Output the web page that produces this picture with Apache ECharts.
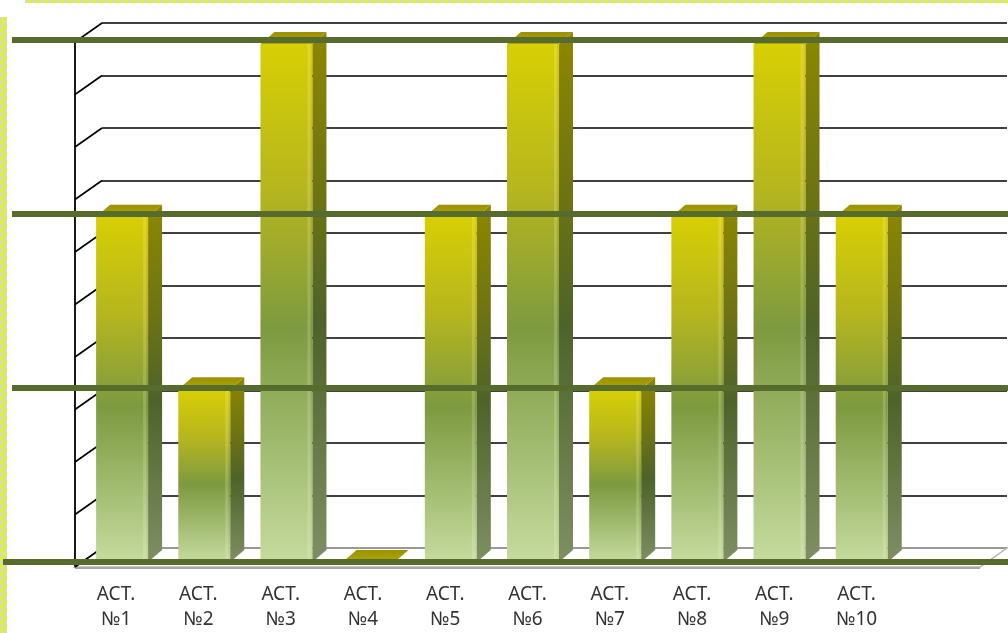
<!DOCTYPE html>
<html>
<head>
<meta charset="utf-8">
<script src="https://cdn.jsdelivr.net/npm/echarts@6/dist/echarts.min.js"></script>
<style>
  html, body { margin: 0; padding: 0; background: #ffffff; }
  #chart { width: 1008px; height: 633px; }
</style>
</head>
<body>
<div id="chart"></div>
<script>
// Category labels (the last slot is an empty placeholder at the end of the floor)
const categories = ['АСТ.\n№1', 'АСТ.\n№2', 'АСТ.\n№3', 'АСТ.\n№4', 'АСТ.\n№5',
                    'АСТ.\n№6', 'АСТ.\n№7', 'АСТ.\n№8', 'АСТ.\n№9', 'АСТ.\n№10', ''];
// Bar values per category
const barValues = [2, 1, 3, 0, 2, 3, 1, 2, 3, 2];
// Thin wall gridline levels and the bold guide levels
const gridLevels = [0, 0.3, 0.6, 0.9, 1.2, 1.5, 1.8, 2.1, 2.4, 2.7, 3];
const majorLevels = [0, 1, 2, 3];
const AXIS_MAX = 3;
const AXIS_STEP = 0.3;

// Depth offsets for the pseudo-3D look
const WALL_DX = 27, WALL_DY = 19;
const BAR_W = 52, BAR_DX = 14, BAR_DY = 12;
const GUIDE_COLOR = '#566b2c';

const chart = echarts.init(document.getElementById('chart'), null, { renderer: 'canvas' });

// Small hatched tile used by the decorative border strips
function hatchTile() {
  const c = document.createElement('canvas');
  c.width = 8; c.height = 8;
  const g = c.getContext('2d');
  g.fillStyle = '#cfe4a2';
  g.fillRect(0, 0, 8, 8);
  g.strokeStyle = '#e9f01c';
  g.lineWidth = 2;
  g.beginPath();
  g.moveTo(0, 8); g.lineTo(8, 0);
  g.moveTo(-4, 4); g.lineTo(4, -4);
  g.moveTo(4, 12); g.lineTo(12, 4);
  g.stroke();
  return c;
}
const hatch = { image: hatchTile(), repeat: 'repeat' };

const frontGrad = () => new echarts.graphic.LinearGradient(0, 0, 0, 1, [
  { offset: 0, color: '#d7cf04' },
  { offset: 0.28, color: '#b6b61e' },
  { offset: 0.55, color: '#7d9a40' },
  { offset: 0.8, color: '#a4be74' },
  { offset: 1, color: '#c6db9f' }
]);
const sideGrad = () => new echarts.graphic.LinearGradient(0, 0, 0, 1, [
  { offset: 0, color: '#8d8700' },
  { offset: 0.3, color: '#6e7413' },
  { offset: 0.55, color: '#4d6329' },
  { offset: 1, color: '#7f8f63' }
]);

// 3D-looking bar: front face, side face and top face
function renderBar(params, api) {
  const i = api.value(0);
  const v = api.value(1);
  const top = api.coord([i, v]);
  const base = api.coord([i, 0]);
  const x0 = top[0] - BAR_W / 2;
  const x1 = x0 + BAR_W;
  const h = base[1] - top[1];
  const children = [];
  if (h > 0.5) {
    children.push({
      type: 'rect',
      shape: { x: x0, y: top[1], width: BAR_W, height: h },
      style: { fill: frontGrad() }
    });
    children.push({
      type: 'rect',
      shape: { x: x1 - 5, y: top[1], width: 3, height: h },
      style: { fill: 'rgba(255,255,230,0.18)' }
    });
    children.push({
      type: 'polygon',
      shape: { points: [[x1, top[1]], [x1 + BAR_DX, top[1] - BAR_DY], [x1 + BAR_DX, base[1] - BAR_DY], [x1, base[1]]] },
      style: { fill: sideGrad() }
    });
  }
  children.push({
    type: 'polygon',
    shape: { points: [[x0, top[1]], [x0 + BAR_DX, top[1] - BAR_DY], [x1 + BAR_DX, top[1] - BAR_DY], [x1, top[1]]] },
    style: {
      fill: new echarts.graphic.LinearGradient(0, 1, 0, 0, [
        { offset: 0, color: '#b0a706' },
        { offset: 1, color: '#9a9100' }
      ])
    }
  });
  return { type: 'group', children };
}

// Side wall diagonals joining the front edge to the back wall at each gridline
function renderSideWall(params, api) {
  const p = api.coord([0, api.value(1)]);
  const band = api.size([1, 0])[0];
  const xL = p[0] - band / 2;
  return {
    type: 'line',
    shape: { x1: xL, y1: p[1], x2: xL + WALL_DX, y2: p[1] - WALL_DY },
    style: { stroke: '#000', lineWidth: 1.6 }
  };
}

// Floor slab under the bars
function renderFloor(params, api) {
  const band = api.size([1, 0])[0];
  const pl = api.coord([0, 0]);
  const pr = api.coord([categories.length - 1, 0]);
  const xl = pl[0] - band / 2;
  const xr = pr[0] + band / 2;
  const y = pl[1];
  return {
    type: 'group',
    children: [
      {
        type: 'polygon',
        shape: { points: [[xl, y], [xr, y], [xr + WALL_DX, y - WALL_DY], [xl + WALL_DX, y - WALL_DY]] },
        style: { fill: 'rgba(255,255,255,0)', stroke: '#b5b5b5', lineWidth: 1.5 }
      },
      {
        type: 'line',
        shape: { x1: xl, y1: y + 1, x2: xr, y2: y + 1 },
        style: { stroke: '#a8a8a8', lineWidth: 2 }
      }
    ]
  };
}

const hiddenValueX = (grid) => ({ type: 'value', gridIndex: grid, min: 0, max: 1, show: false });
const hiddenValueY = (grid) => ({ type: 'value', gridIndex: grid, min: 0, max: AXIS_MAX, show: false });

const option = {
  animation: false,
  backgroundColor: '#ffffff',
  graphic: [
    { type: 'rect', z: 0, shape: { x: 25, y: 0, width: 983, height: 3 }, style: { fill: hatch } },
    { type: 'rect', z: 0, shape: { x: 0, y: 17, width: 7, height: 616 }, style: { fill: hatch } }
  ],
  grid: [
    // 0: front plane (category labels, left edge, floor)
    { left: 75, right: 28, top: 42, bottom: 66 },
    // 1: back wall
    { left: 75 + WALL_DX, right: 1, top: 42 - WALL_DY, bottom: 66 + WALL_DY },
    // 2: bar plane
    { left: 81, right: 23, top: 44, bottom: 71 },
    // 3: bold guides
    { left: 12, right: 0, top: 40, bottom: 71 },
    // 4: bold base guide
    { left: 3, right: 0, top: 40, bottom: 71 }
  ],
  xAxis: [
    {
      type: 'category', gridIndex: 0, data: categories, boundaryGap: true,
      axisLine: { show: false }, axisTick: { show: false },
      axisLabel: {
        interval: 0, margin: 15, color: '#333333',
        fontFamily: 'Noto Sans', fontSize: 19, lineHeight: 25
      }
    },
    hiddenValueX(1),
    { type: 'category', gridIndex: 2, data: categories, boundaryGap: true, show: false },
    hiddenValueX(3),
    hiddenValueX(4)
  ],
  yAxis: [
    {
      type: 'value', gridIndex: 0, min: 0, max: AXIS_MAX, interval: AXIS_STEP,
      axisLine: { show: true, lineStyle: { color: '#000', width: 1.8 } },
      axisTick: { show: false }, axisLabel: { show: false }, splitLine: { show: false }
    },
    {
      type: 'value', gridIndex: 1, min: 0, max: AXIS_MAX, interval: AXIS_STEP,
      axisLine: { show: false }, axisTick: { show: false }, axisLabel: { show: false },
      splitLine: { show: true, lineStyle: { color: '#000', width: 1.6 } }
    },
    hiddenValueY(2),
    hiddenValueY(3),
    hiddenValueY(4)
  ],
  series: [
    {
      type: 'custom', name: 'floor', xAxisIndex: 0, yAxisIndex: 0, z: 1, silent: true,
      renderItem: renderFloor, data: [[0, 0]]
    },
    {
      type: 'custom', name: 'side wall', xAxisIndex: 0, yAxisIndex: 0, z: 1, silent: true,
      renderItem: renderSideWall, data: gridLevels.map(v => [0, v])
    },
    {
      type: 'custom', name: 'bars', xAxisIndex: 2, yAxisIndex: 2, z: 3,
      renderItem: renderBar, data: barValues.map((v, i) => [i, v])
    },
    {
      type: 'line', name: 'guides', xAxisIndex: 3, yAxisIndex: 3, z: 5,
      data: [[0, 0]], showSymbol: false, lineStyle: { opacity: 0 },
      markLine: {
        silent: true, symbol: 'none', label: { show: false },
        lineStyle: { color: GUIDE_COLOR, width: 6, type: 'solid' },
        data: majorLevels.filter(v => v > 0).map(v => ({ yAxis: v }))
      }
    },
    {
      type: 'line', name: 'base guide', xAxisIndex: 4, yAxisIndex: 4, z: 5,
      data: [[0, 0]], showSymbol: false, lineStyle: { opacity: 0 },
      markLine: {
        silent: true, symbol: 'none', label: { show: false },
        lineStyle: { color: GUIDE_COLOR, width: 6, type: 'solid' },
        data: majorLevels.filter(v => v === 0).map(v => ({ yAxis: v }))
      }
    }
  ]
};

chart.setOption(option);
</script>
</body>
</html>
